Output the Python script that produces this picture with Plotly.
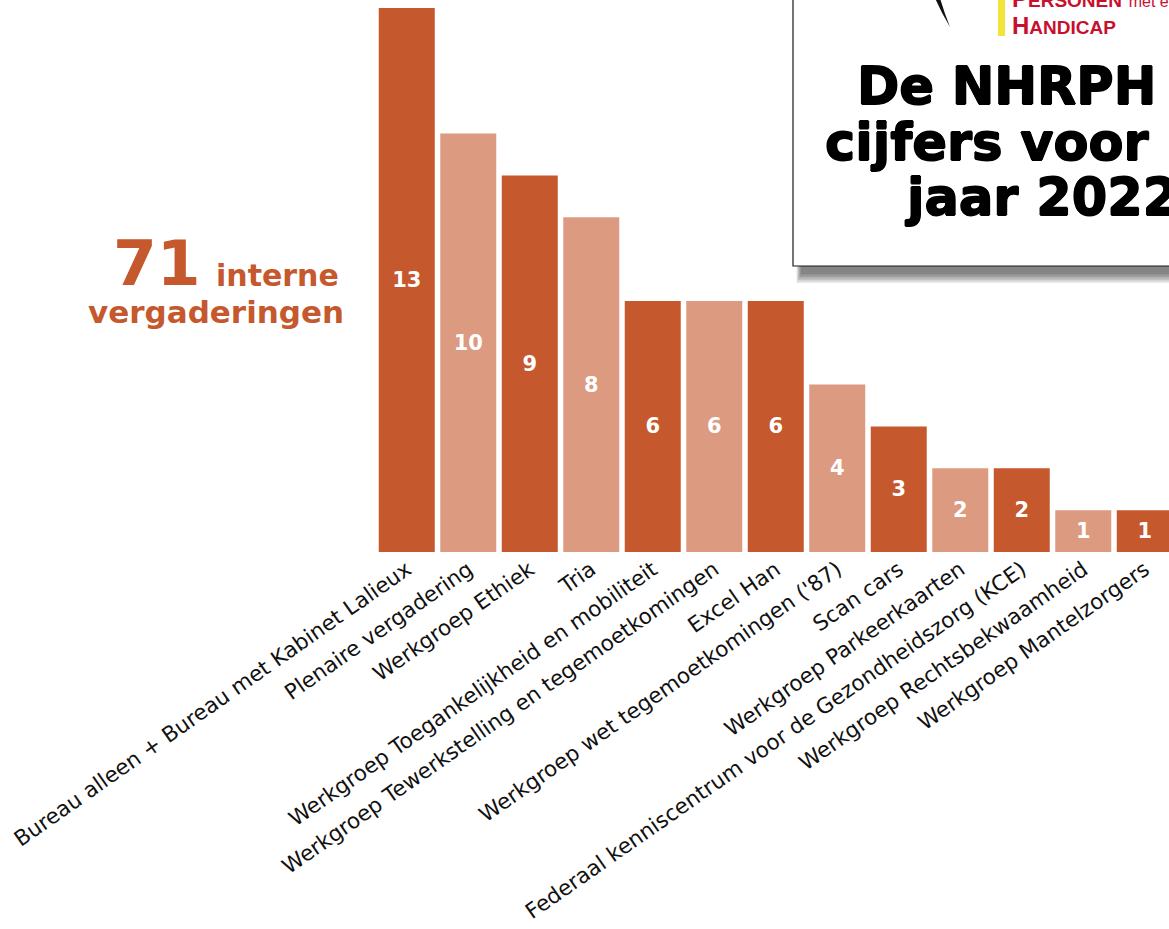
import plotly.graph_objects as go

categories = [
    "Bureau alleen + Bureau met Kabinet Lalieux",
    "Plenaire vergadering",
    "Werkgroep Ethiek",
    "Tria",
    "Werkgroep Toegankelijkheid en mobiliteit",
    "Werkgroep Tewerkstelling en tegemoetkomingen",
    "Excel Han",
    "Werkgroep wet tegemoetkomingen ('87)",
    "Scan cars",
    "Werkgroep Parkeerkaarten",
    "Federaal kenniscentrum voor de Gezondheidszorg (KCE)",
    "Werkgroep Rechtsbekwaamheid",
    "Werkgroep Mantelzorgers",
]
meetings = [13, 10, 9, 8, 6, 6, 6, 4, 3, 2, 2, 1, 1]
total_meetings = 71

DARK = "#C5582D"
LIGHT = "#DC9A80"
bar_colors = [DARK if i % 2 == 0 else LIGHT for i in range(len(categories))]

W, H = 1169, 929
L, R, T, B = 376, 0, 8, 377
PW = W - L - R
PH = H - T - B
PITCH = 61.5


def px(x):
    return (x - L) / PW


def py(y):
    return (H - B - y) / PH


fig = go.Figure()
fig.add_trace(go.Bar(
    x=list(range(len(categories))),
    y=meetings,
    marker=dict(color=bar_colors, line=dict(width=0)),
    text=[str(v) for v in meetings],
    textposition="inside",
    insidetextanchor="middle",
    textangle=0,
    textfont=dict(family="DejaVu Sans", size=21, color="white", weight="bold"),
    hoverinfo="skip",
))

shapes = []
# shadow of the title box (soft, offset down/right)
for i in range(7):
    g = 9 - 1.5 * i
    shapes.append(dict(
        type="rect", xref="paper", yref="paper",
        x0=px(801 - g * 0.5), x1=px(1260), y0=py(274 + g), y1=py(-20),
        line=dict(width=0), fillcolor="rgba(0,0,0,0.085)", layer="above",
    ))
# title box
shapes.append(dict(
    type="rect", xref="paper", yref="paper",
    x0=px(793), x1=px(1250), y0=py(266), y1=py(-20),
    line=dict(width=1.2, color="#1a1a1a"), fillcolor="white", layer="above",
))
# yellow bar of logo
shapes.append(dict(
    type="rect", xref="paper", yref="paper",
    x0=px(998), x1=px(1005), y0=py(36), y1=py(-5),
    line=dict(width=0), fillcolor="#F3E43A", layer="above",
))
# black swoosh of logo
pts = [(935, -2), (941, 12), (950, 27), (944, 12), (940, -2)]
path = "M {} {} Q {} {} {} {} Q {} {} {} {} Z".format(
    px(pts[0][0]), py(pts[0][1]), px(pts[1][0]), py(pts[1][1]),
    px(pts[2][0]), py(pts[2][1]), px(pts[3][0]), py(pts[3][1]),
    px(pts[4][0]), py(pts[4][1]))
shapes.append(dict(type="path", xref="paper", yref="paper", path=path,
                   fillcolor="#111", line=dict(width=0), layer="above"))

annotations = []
# title lines
heavy = "0.8px 0 0 #000, -0.8px 0 0 #000, 0 0.8px 0 #000, 0 -0.8px 0 #000"
title_lines = [("De NHRPH in", 855, 86), ("cijfers voor het", 823, 142), ("jaar 2022", 903, 197)]
for txt, x, y in title_lines:
    annotations.append(dict(
        text=txt, xref="paper", yref="paper", x=px(x), y=py(y),
        xanchor="left", yanchor="middle", showarrow=False,
        font=dict(family="DejaVu Sans", size=51, color="black", weight="bold", shadow=heavy),
    ))
# logo text
annotations.append(dict(
    text="<b>H<span style='font-size:19px'>ANDICAP</span></b>",
    xref="paper", yref="paper", x=px(1010), y=py(25),
    xanchor="left", yanchor="middle", showarrow=False,
    font=dict(family="Liberation Sans", size=24, color="#C8102E"),
))
annotations.append(dict(
    text="<b>P<span style='font-size:19px'>ERSONEN</span></b> <span style='font-size:16px'>met een</span>",
    xref="paper", yref="paper", x=px(1010), y=py(-2),
    xanchor="left", yanchor="middle", showarrow=False,
    font=dict(family="Liberation Sans", size=24, color="#C8102E"),
))
# left callout
annotations.append(dict(
    text="<b>%d</b>" % total_meetings, xref="paper", yref="paper", x=px(203), y=py(263),
    xanchor="right", yanchor="middle", showarrow=False,
    font=dict(family="DejaVu Sans", size=63, color=DARK),
))
annotations.append(dict(
    text="<b>interne</b>", xref="paper", yref="paper", x=px(341), y=py(275),
    xanchor="right", yanchor="middle", showarrow=False,
    font=dict(family="DejaVu Sans", size=30, color=DARK),
))
annotations.append(dict(
    text="<b>vergaderingen</b>", xref="paper", yref="paper", x=px(346), y=py(312),
    xanchor="right", yanchor="middle", showarrow=False,
    font=dict(family="DejaVu Sans", size=31, color=DARK),
))

fig.update_layout(
    width=W, height=H,
    margin=dict(l=L, r=R, t=T, b=B, autoexpand=False),
    plot_bgcolor="white", paper_bgcolor="white",
    bargap=1 - 56 / PITCH,
    showlegend=False,
    shapes=shapes,
    annotations=annotations,
    xaxis=dict(
        range=[-0.5, -0.5 + PW / PITCH],
        tickmode="array",
        tickvals=list(range(len(categories))),
        ticktext=categories,
        tickangle=-35,
        tickfont=dict(family="DejaVu Sans", size=21.5, color="#111"),
        showgrid=False, zeroline=False, showline=False, ticks="",
        automargin=False,
    ),
    yaxis=dict(range=[0, 13], visible=False, showgrid=False, zeroline=False),
)

fig.write_html(
    "out.html",
    config={"displayModeBar": False},
    post_script="document.body.style.margin='0';document.body.style.overflow='hidden';",
)
